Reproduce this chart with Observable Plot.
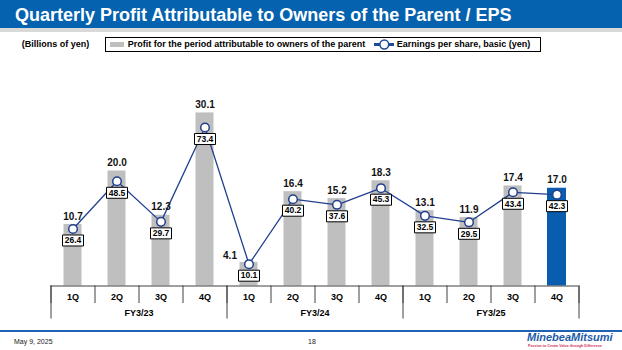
<!DOCTYPE html>
<html>
<head>
<meta charset="utf-8">
<script src="https://cdn.jsdelivr.net/npm/d3@7"></script>
<script src="https://cdn.jsdelivr.net/npm/@observablehq/plot@0.6"></script>
<style>
  html, body { margin: 0; padding: 0; background: #fff; }
  body { width: 622px; height: 350px; position: relative; overflow: hidden;
         font-family: "Liberation Sans", Arial, sans-serif; }
  .abs { position: absolute; white-space: nowrap; }
  #titlebar { left: 0; top: 0; width: 622px; height: 27.5px; background: #0562AE; }
  #titlestrip { left: 0; top: 27.5px; width: 622px; height: 4.5px; background: #D9D9D9; }
  #title { left: 15px; top: 5.5px; font-size: 18px; line-height: 18px; font-weight: bold; color: #fff; }
  .lg { font-size: 9px; line-height: 9px; font-weight: bold; color: #000; top: 40px; }
  #legendbox { left: 105px; top: 37px; width: 436px; height: 15px; border: 1px solid #000; box-sizing: border-box; }
  #swatch { left: 110px; top: 41.5px; width: 13.5px; height: 5.5px; background: #BFBFBF; }
  #chart { left: 0; top: 60px; }
  #footline { left: 0; top: 330px; width: 622px; height: 2px; background: #1E63B3; }
  .ft { font-size: 7px; line-height: 7px; color: #222; top: 338px; }
  #logo { left: 527px; top: 332px; font-size: 11px; line-height: 11px; font-weight: bold; font-style: italic; color: #1B5BAA; }
  #tag { left: 528px; top: 344px; font-size: 3.6px; line-height: 4px; font-weight: bold; color: #D0345A; }
</style>
</head>
<body>
<div id="titlebar" class="abs"></div>
<div id="titlestrip" class="abs"></div>
<div id="title" class="abs">Quarterly Profit Attributable to Owners of the Parent / EPS</div>

<div class="abs lg" style="left:21.7px">(Billions of yen)</div>
<div id="legendbox" class="abs"></div>
<div id="swatch" class="abs"></div>
<div class="abs lg" style="left:127.7px">Profit for the period attributable to owners of the parent</div>
<svg class="abs" style="left:372px; top:38px" width="24" height="13">
  <line x1="2" y1="6.5" x2="22" y2="6.5" stroke="#1F4A98" stroke-width="3"></line>
  <circle cx="12.3" cy="6.5" r="4.4" fill="#fff" stroke="#1F4A98" stroke-width="1.5"></circle>
</svg>
<div class="abs lg" style="left:396.7px">Earnings per share, basic (yen)</div>

<div id="chart" class="abs"></div>

<div id="footline" class="abs"></div>
<div class="abs ft" style="left:14px">May 9, 2025</div>
<div class="abs ft" style="left:308px">18</div>
<div id="logo" class="abs">MinebeaMitsumi</div>
<div id="tag" class="abs">Passion to Create Value through Difference</div>

<script>
// ---- data ----
const quarters = ["1Q", "2Q", "3Q", "4Q", "1Q", "2Q", "3Q", "4Q", "1Q", "2Q", "3Q", "4Q"];
const fiscalYears = ["FY3/23", "FY3/24", "FY3/25"];
const profit = [10.7, 20.0, 12.3, 30.1, 4.1, 16.4, 15.2, 18.3, 13.1, 11.9, 17.4, 17.0];
const eps = [26.4, 48.5, 29.7, 73.4, 10.1, 40.2, 37.6, 45.3, 32.5, 29.5, 43.4, 42.3];

// EPS drawn on a secondary axis sharing the zero baseline
const EPS_K = 0.3755;

const rows = profit.map((p, i) => ({
  i, q: quarters[i], fy: fiscalYears[Math.floor(i / 4)], profit: p, eps: eps[i]
}));
const last = rows.length - 1;

const boxSymbol = { draw(ctx) { ctx.rect(-10.5, -5.5, 21, 11); } };
const cx = d => d.i + 0.5;
const ey = d => d.eps * EPS_K;
const lineColor = "#22408F";

const chart = Plot.plot({
  width: 622,
  height: 270,
  marginLeft: 50.5,
  marginRight: 43.5,
  marginTop: 24.25,
  marginBottom: 44.5,
  x: { type: "linear", domain: [0, quarters.length], axis: null },
  y: { domain: [0, 35], axis: null },
  style: { fontFamily: "'Liberation Sans', Arial, sans-serif", fontWeight: "bold", color: "#000", background: "transparent" },
  marks: [
    Plot.rectY(rows.filter(d => d.i !== last), { x1: d => d.i, x2: d => d.i + 1, y: "profit", fill: "#BFBFBF", insetLeft: 13, insetRight: 13 }),
    Plot.rectY(rows.filter(d => d.i === last), { x1: d => d.i, x2: d => d.i + 1, y: "profit", fill: "#0A5DAE", insetLeft: 12.5, insetRight: 12.5 }),
    Plot.ruleY([0], { stroke: "#404040", strokeWidth: 1 }),
    Plot.axisX(d3.range(quarters.length + 1), { tickSize: 17.5, tickFormat: () => "", stroke: "#404040" }),
    Plot.axisX(fiscalYears.map((_, j) => j * 4), { tickSize: 33, tickFormat: () => "", stroke: "#404040" }),
    Plot.axisX([quarters.length], { tickSize: 33, tickFormat: () => "", stroke: "#404040" }),
    Plot.axisX(rows.map(cx), { tickSize: 0, tickPadding: 8, tickFormat: d => quarters[Math.floor(d)], fontSize: 9, fill: "#000" }),
    Plot.axisX(fiscalYears.map((_, j) => j * 4 + 2), { tickSize: 0, tickPadding: 24, tickFormat: d => fiscalYears[(d - 2) / 4], fontSize: 9, fill: "#000" }),
    Plot.line(rows, { x: cx, y: ey, stroke: lineColor, strokeWidth: 1.3 }),
    Plot.dot(rows, { x: cx, y: ey, r: 4.3, fill: "#fff", stroke: lineColor, strokeWidth: 1.5 }),
    Plot.dot(rows, { x: cx, y: ey, symbol: boxSymbol, r: 5, fill: "#fff", stroke: "#000", strokeWidth: 1, dy: 11.5 }),
    Plot.text(rows, { x: cx, y: ey, text: d => d.eps.toFixed(1), dy: 11.5, fontSize: 8.5, fontWeight: "bold", fill: "#000" }),
    Plot.text(rows.filter(d => d.i !== 4), { x: cx, y: "profit", text: d => d.profit.toFixed(1), dy: -8, fontSize: 10, fontWeight: "bold", fill: "#111" }),
    Plot.text(rows.filter(d => d.i === 4), { x: cx, y: "profit", text: d => d.profit.toFixed(1), dx: -19, dy: -7, fontSize: 10, fontWeight: "bold", fill: "#111" })
  ]
});
document.getElementById("chart").appendChild(chart);
</script>
</body>
</html>
